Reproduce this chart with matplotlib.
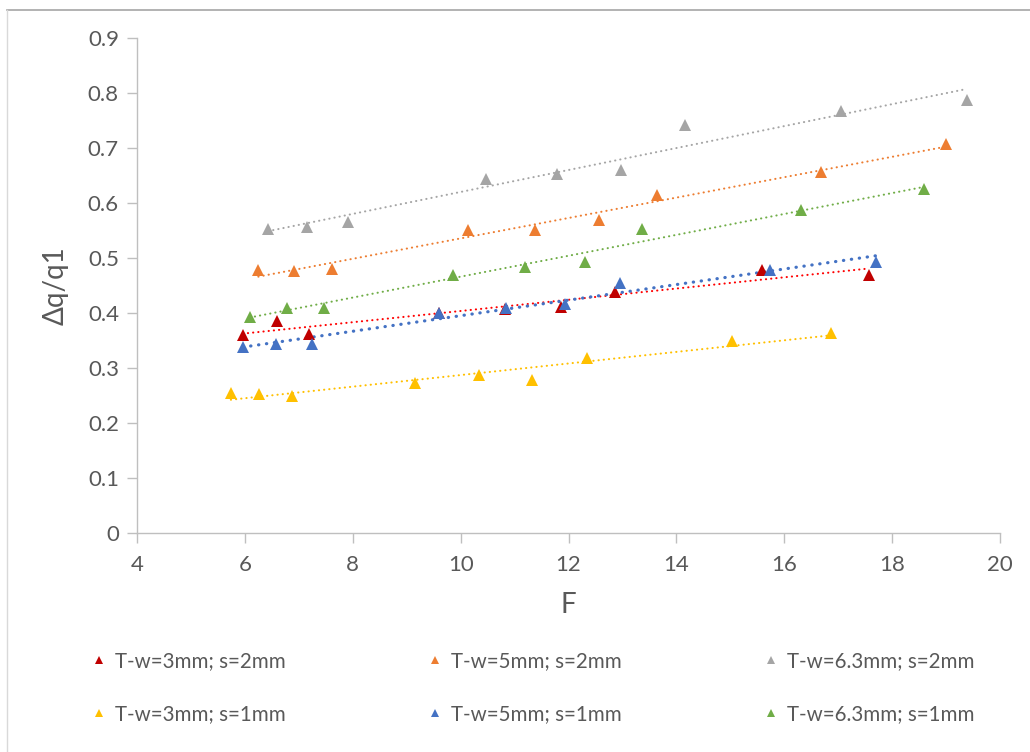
import numpy as np
import matplotlib
matplotlib.use("Agg")
import matplotlib.pyplot as plt
from matplotlib.lines import Line2D

plt.rcParams['font.family'] = ['Lato', 'DejaVu Sans']

# Measured series: F versus Δq/q1
labels = ["T-w=3mm; s=2mm", "T-w=5mm; s=2mm", "T-w=6.3mm; s=2mm",
          "T-w=3mm; s=1mm", "T-w=5mm; s=1mm", "T-w=6.3mm; s=1mm"]

f_w3_s2 = [5.96, 6.59, 7.19, 9.59, 10.83, 11.87, 12.86, 15.58, 17.57]
q_w3_s2 = [0.360, 0.386, 0.362, 0.400, 0.408, 0.411, 0.439, 0.479, 0.470]

f_w5_s2 = [6.25, 6.91, 7.61, 10.14, 11.38, 12.57, 13.65, 16.68, 19.00]
q_w5_s2 = [0.478, 0.477, 0.480, 0.551, 0.551, 0.569, 0.614, 0.657, 0.707]

f_w63_s2 = [6.43, 7.15, 7.91, 10.47, 11.78, 12.97, 14.16, 17.05, 19.38]
q_w63_s2 = [0.552, 0.556, 0.566, 0.643, 0.652, 0.660, 0.742, 0.768, 0.787]

f_w3_s1 = [5.74, 6.27, 6.88, 9.15, 10.34, 11.32, 12.35, 15.03, 16.87]
q_w3_s1 = [0.255, 0.252, 0.250, 0.273, 0.288, 0.278, 0.318, 0.349, 0.363]

f_w5_s1 = [5.96, 6.58, 7.24, 9.59, 10.85, 11.93, 12.95, 15.74, 17.71]
q_w5_s1 = [0.339, 0.344, 0.343, 0.400, 0.409, 0.416, 0.455, 0.479, 0.492]

f_w63_s1 = [6.09, 6.78, 7.47, 9.86, 11.19, 12.31, 13.36, 16.31, 18.60]
q_w63_s1 = [0.392, 0.410, 0.410, 0.469, 0.484, 0.493, 0.552, 0.587, 0.625]

marker_colors = ["#C00000", "#ED7D31", "#A5A5A5", "#FFC000", "#4472C4", "#70AD47"]
trend_colors = ["#FF0000", "#ED7D31", "#A5A5A5", "#FFC000", "#4472C4", "#70AD47"]
trend_widths = [1.5, 1.5, 1.5, 1.5, 2.3, 1.5]

series = [(f_w3_s2, q_w3_s2), (f_w5_s2, q_w5_s2), (f_w63_s2, q_w63_s2),
          (f_w3_s1, q_w3_s1), (f_w5_s1, q_w5_s1), (f_w63_s1, q_w63_s1)]

W, H = 1030, 752
fig = plt.figure(figsize=(W / 100, H / 100), dpi=100)
ax = fig.add_axes([137 / W, 1 - 533 / H, (1000 - 137) / W, (533 - 38) / H])

axis_gray = "#BFBFBF"
text_gray = "#595959"

# Linear trendlines first, markers on top
draw_order = [3, 0, 4, 5, 1, 2]
for i in draw_order:
    x, y = np.array(series[i][0]), np.array(series[i][1])
    slope, icpt = np.polyfit(x, y, 1)
    xx = np.array([x.min(), x.max()])
    ax.plot(xx, slope * xx + icpt, color=trend_colors[i], lw=trend_widths[i],
            linestyle=(0, (0.1, 2.4)), dash_capstyle="round", zorder=2)
for i in draw_order:
    ax.plot(series[i][0], series[i][1], linestyle="none", marker="^",
            ms=9, color=marker_colors[i], mew=0, zorder=3)

ax.set_xlim(4, 20)
ax.set_ylim(0, 0.9)
ax.set_xticks(np.arange(4, 21, 2))
ax.set_yticks(np.round(np.arange(0, 0.91, 0.1), 1))
ax.set_yticklabels(["0"] + [f"{v:.1f}" for v in np.arange(0.1, 0.91, 0.1)])

for s in ["top", "right"]:
    ax.spines[s].set_visible(False)
for s in ["left", "bottom"]:
    ax.spines[s].set_color(axis_gray)
    ax.spines[s].set_linewidth(1.0)
ax.tick_params(axis="both", direction="out", length=7, width=1.0,
               color=axis_gray, labelcolor=text_gray, labelsize=16, pad=6)
ax.tick_params(axis="x", pad=9)

ax.set_xlabel("F", fontsize=20, color=text_gray, labelpad=12)
ax.set_ylabel("Δq/q1", fontsize=20, color=text_gray, labelpad=14)

# Legend: three columns of two entries
col_x = [80, 416, 752]
pairs = [(0, 3), (1, 4), (2, 5)]
for cx, (a, b) in zip(col_x, pairs):
    handles = [Line2D([], [], linestyle="none", marker="^", ms=6, mew=0,
                      color=marker_colors[k]) for k in (a, b)]
    leg = fig.legend(handles, [labels[a], labels[b]],
                     loc="upper left", bbox_to_anchor=(cx / W, 1 - 641 / H),
                     frameon=False, fontsize=14.8, handlelength=0.8,
                     handletextpad=0.4, labelspacing=1.6, borderpad=0)
    for t in leg.get_texts():
        t.set_color(text_gray)

# Chart area border
fig.add_artist(Line2D([7 / W, 1.0], [1 - 10 / H, 1 - 10 / H],
                      color="#A6A6A6", lw=1.2, transform=fig.transFigure))
fig.add_artist(Line2D([7 / W, 7 / W], [0, 1 - 10 / H],
                      color="#D9D9D9", lw=1.0, transform=fig.transFigure))

fig.savefig("out.png", dpi=100, facecolor="white")
